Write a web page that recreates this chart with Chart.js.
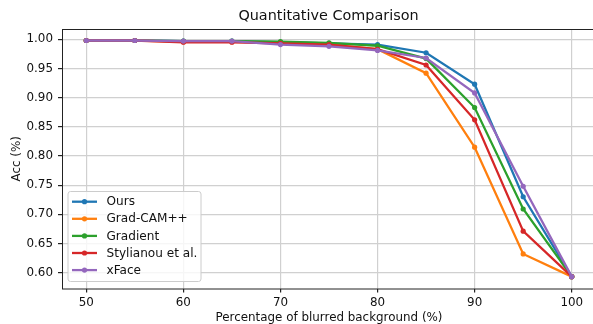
<!DOCTYPE html>
<html>
<head>
<meta charset="utf-8">
<script src="https://cdn.jsdelivr.net/npm/chart.js@4.4.0/dist/chart.umd.min.js"></script>
<style>
    body { margin: 0; overflow: hidden; background: #fff; }
    #box { width: 597px; height: 324px; }
</style>
</head>
<body>
<div id="box"><canvas id="grafico"></canvas></div>
<script>
var blurPct = [50, 55, 60, 65, 70, 75, 80, 85, 90, 95, 100];
var ours = [0.998, 0.998, 0.997, 0.997, 0.995, 0.993, 0.991, 0.977, 0.923, 0.730, 0.593];
var gradCam = [0.998, 0.998, 0.996, 0.996, 0.994, 0.991, 0.983, 0.942, 0.815, 0.632, 0.593];
var gradient = [0.998, 0.998, 0.997, 0.997, 0.996, 0.994, 0.989, 0.967, 0.883, 0.709, 0.593];
var stylianou = [0.998, 0.998, 0.995, 0.995, 0.993, 0.991, 0.983, 0.956, 0.862, 0.671, 0.593];
var xFace = [0.998, 0.998, 0.997, 0.997, 0.991, 0.988, 0.981, 0.968, 0.908, 0.748, 0.593];
var nomes = ['Ours', 'Grad-CAM++', 'Gradient', 'Stylianou et al.', 'xFace'];
var cores = ['#1f77b4', '#ff7f0e', '#2ca02c', '#d62728', '#9467bd'];
var xTicks = [50, 60, 70, 80, 90, 100];
var yTicks = [0.60, 0.65, 0.70, 0.75, 0.80, 0.85, 0.90, 0.95, 1.00];

var fonte = 'DejaVu Sans';
var series = [ours, gradCam, gradient, stylianou, xFace];

function montarDataset(i) {
    return {
        label: nomes[i],
        data: blurPct.map(function (x, j) { return { x: x, y: series[i][j] }; }),
        borderColor: cores[i],
        backgroundColor: cores[i],
        borderWidth: 2.3,
        pointRadius: 2.6,
        pointBorderWidth: 0,
        pointHoverRadius: 2.6,
        tension: 0,
        order: series.length - i
    };
}

// titulo, moldura e legenda desenhados a mao (legenda dentro da area do grafico)
var extras = {
    id: 'extras',
    afterDraw: function (chart) {
        var ctx = chart.ctx;
        var a = chart.chartArea;
        ctx.save();
        ctx.strokeStyle = '#222';
        ctx.lineWidth = 1;
        ctx.strokeRect(a.left + 0.5, a.top + 0.5, a.right - a.left, a.bottom - a.top);

        ctx.fillStyle = '#111';
        ctx.font = '14.4px "' + fonte + '"';
        ctx.textAlign = 'center';
        ctx.textBaseline = 'middle';
        ctx.fillText('Quantitative Comparison', (a.left + a.right) / 2 - 0.5, 16.5);

        var lx = 68, ly = 191.5, lw = 133, lh = 90;
        ctx.beginPath();
        ctx.roundRect(lx, ly, lw, lh, 2.5);
        ctx.fillStyle = 'rgba(255,255,255,0.8)';
        ctx.fill();
        ctx.strokeStyle = '#cccccc';
        ctx.lineWidth = 1;
        ctx.stroke();

        ctx.font = '12.1px "' + fonte + '"';
        ctx.textAlign = 'left';
        for (var i = 0; i < nomes.length; i++) {
            var y = 201.7 + i * 17.1;
            ctx.strokeStyle = cores[i];
            ctx.lineWidth = 2.3;
            ctx.beginPath();
            ctx.moveTo(72, y);
            ctx.lineTo(97, y);
            ctx.stroke();
            ctx.fillStyle = cores[i];
            ctx.beginPath();
            ctx.arc(84.5, y, 2.6, 0, Math.PI * 2);
            ctx.fill();
            ctx.fillStyle = '#111';
            ctx.fillText(nomes[i], 106.5, y + 0.5);
        }
        ctx.restore();
    }
};

var ctx = document.getElementById('grafico');
var grafico = new Chart(ctx, {
    type: 'line',
    data: {
        datasets: series.map(function (s, i) { return montarDataset(i); })
    },
    options: {
        responsive: true,
        maintainAspectRatio: false,
        animation: false,
        layout: { autoPadding: false, padding: { top: 29, right: 1, left: 0, bottom: 0 } },
        plugins: {
            legend: { display: false },
            title: { display: false },
            tooltip: { enabled: false }
        },
        scales: {
            x: {
                type: 'linear',
                min: 47.5,
                max: 102.5,
                afterBuildTicks: function (scale) {
                    scale.ticks = xTicks.map(function (v) { return { value: v }; });
                },
                afterFit: function (scale) { scale.height = 35.5; },
                grid: { color: '#d0d0d0', lineWidth: 1.2, tickColor: '#222', tickLength: 4 },
                border: { display: false },
                ticks: {
                    color: '#111',
                    font: { family: fonte, size: 11.9 },
                    padding: 3,
                    maxRotation: 0,
                    callback: function (v) { return String(v); }
                },
                title: {
                    display: true,
                    text: 'Percentage of blurred background (%)',
                    color: '#111',
                    font: { family: fonte, size: 11.9, lineHeight: 1 },
                    padding: { top: 0, bottom: 0 }
                }
            },
            y: {
                min: 0.5727,
                max: 1.0177,
                afterBuildTicks: function (scale) {
                    scale.ticks = yTicks.map(function (v) { return { value: v }; });
                },
                afterFit: function (scale) { scale.width = 62; },
                grid: { color: '#d0d0d0', lineWidth: 1.2, tickColor: '#222', tickLength: 4 },
                border: { display: false },
                ticks: {
                    color: '#111',
                    font: { family: fonte, size: 11.9 },
                    padding: 5,
                    callback: function (v) { return v.toFixed(2); }
                },
                title: {
                    display: true,
                    text: 'Acc (%)',
                    color: '#111',
                    font: { family: fonte, size: 11.9, lineHeight: 1.2 },
                    padding: { top: 10, bottom: 0 }
                }
            }
        }
    },
    plugins: [extras]
});
</script>
</body>
</html>
